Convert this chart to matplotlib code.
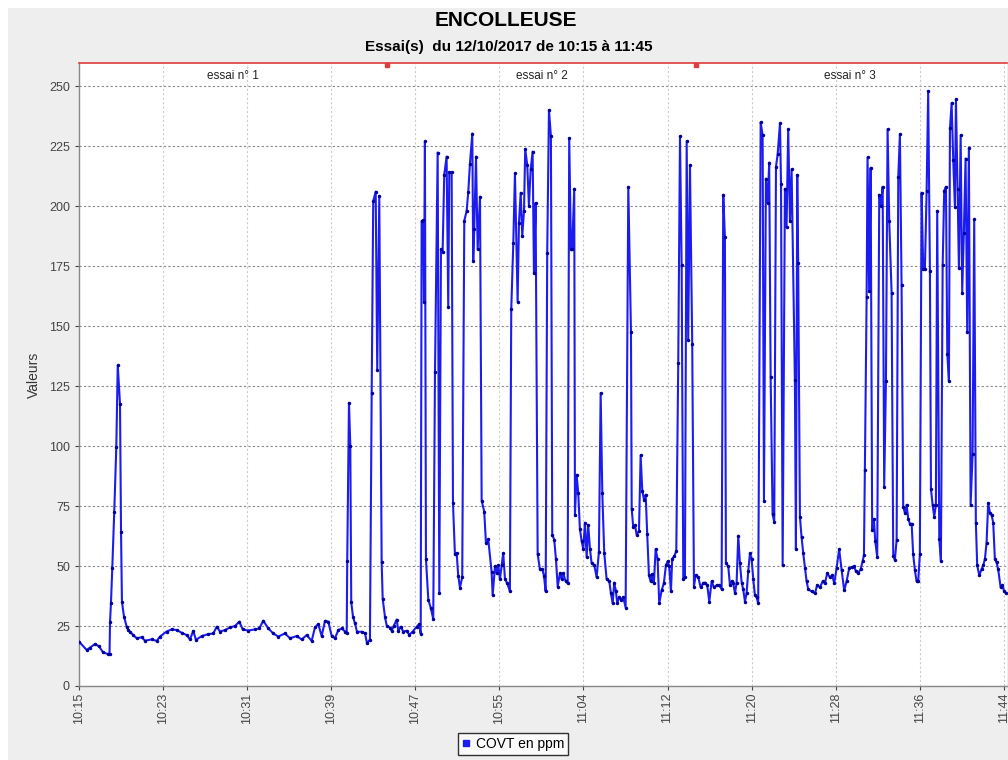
import matplotlib
matplotlib.use('Agg')
import matplotlib.pyplot as plt
from matplotlib.lines import Line2D
from matplotlib.patches import Rectangle

# minutes after 10:15 and COVT values (ppm)
time_min = [
    0.0, 0.75, 1.07, 1.56, 1.95, 2.34, 2.82, 2.97, 3.02, 3.11, 3.24, 3.43, 3.63, 3.77, 3.99,
    4.09, 4.18, 4.38, 4.64, 4.80, 4.96, 5.28, 5.61, 6.10, 6.42, 7.07, 7.56, 7.88, 8.53, 9.02,
    9.51, 9.99, 10.48, 10.80, 11.12, 11.38, 11.94, 12.58, 13.07, 13.40, 13.72, 14.21, 14.69,
    15.18, 15.60, 15.93, 16.47, 17.12, 17.54, 17.93, 18.42, 18.90, 19.39, 20.04, 20.53, 21.18,
    21.67, 22.15, 22.64, 22.96, 23.28, 23.61, 23.94, 24.26, 24.59, 24.91, 25.23, 25.56, 25.88,
    26.05, 26.10, 26.27, 26.40, 26.49, 26.66, 26.85, 27.05, 27.53, 27.83, 28.02, 28.31, 28.48,
    28.63, 28.87, 29.02, 29.22, 29.45, 29.55, 29.77, 29.94, 30.26, 30.42, 30.65, 30.91, 31.07,
    31.30, 31.55, 31.88, 32.14, 32.47, 32.86, 33.08, 33.25, 33.34, 33.50, 33.57, 33.66, 33.76,
    33.99, 34.22, 34.47, 34.64, 34.90, 35.06, 35.22, 35.38, 35.54, 35.77, 35.93, 36.03, 36.26,
    36.39, 36.58, 36.75, 36.90, 37.07, 37.29, 37.49, 37.72, 37.88, 38.04, 38.27, 38.36, 38.46,
    38.63, 38.79, 39.02, 39.18, 39.43, 39.60, 39.82, 40.15, 40.25, 40.48, 40.64, 40.80, 40.96,
    41.13, 41.28, 41.45, 41.67, 41.93, 42.06, 42.26, 42.42, 42.68, 42.81, 42.98, 43.13, 43.30,
    43.42, 43.62, 43.78, 43.95, 44.14, 44.27, 44.43, 44.63, 44.85, 45.08, 45.24, 45.41, 45.56,
    45.73, 45.92, 46.05, 46.24, 46.41, 46.58, 46.80, 46.96, 47.12, 47.35, 47.55, 47.70, 47.87,
    47.99, 48.19, 48.26, 48.42, 48.58, 48.74, 48.91, 49.07, 49.23, 49.40, 49.55, 49.72, 49.88,
    50.14, 50.37, 50.59, 50.76, 50.92, 51.11, 51.34, 51.60, 51.76, 51.93, 52.08, 52.25, 52.37,
    52.54, 52.73, 52.96, 53.19, 53.45, 53.71, 53.78, 53.93, 54.10, 54.26, 54.49, 54.65, 54.81,
    54.97, 55.14, 55.29, 55.46, 55.62, 55.78, 55.94, 56.11, 56.30, 56.46, 56.69, 56.91, 57.11,
    57.28, 57.43, 57.60, 57.72, 57.92, 58.12, 58.31, 58.48, 58.64, 58.80, 58.96, 59.13, 59.28,
    59.45, 59.67, 59.84, 60.00, 60.26, 60.49, 60.74, 60.91, 61.13, 61.33, 61.56, 61.78, 62.05,
    62.30, 62.53, 62.69, 62.85, 62.95, 63.18, 63.34, 63.50, 63.66, 63.83, 63.99, 64.15, 64.31,
    64.48, 64.63, 64.80, 64.96, 65.12, 65.29, 65.45, 65.61, 65.77, 65.94, 66.09, 66.33, 66.52,
    66.65, 66.84, 67.01, 67.16, 67.30, 67.49, 67.65, 67.82, 67.98, 68.21, 68.31, 68.47, 68.69,
    68.85, 69.01, 69.18, 69.34, 69.66, 69.76, 69.89, 69.98, 70.15, 70.31, 70.47, 70.64, 70.80,
    70.96, 71.28, 71.61, 71.83, 72.10, 72.36, 72.58, 72.81, 73.07, 73.29, 73.49, 73.72, 73.97,
    74.21, 74.46, 74.69, 74.95, 75.18, 75.41, 75.60, 75.82, 76.06, 76.25, 76.38, 76.47, 76.64,
    76.73, 76.89, 77.03, 77.18, 77.35, 77.48, 77.67, 77.87, 78.03, 78.20, 78.35, 78.52, 78.68,
    78.84, 79.07, 79.23, 79.39, 79.56, 79.72, 79.88, 80.04, 80.20, 80.37, 80.53, 80.69, 80.85,
    81.02, 81.17, 81.34, 81.50, 81.66, 81.82, 81.99, 82.15, 82.31, 82.48, 82.63, 82.80, 82.90,
    83.06, 83.22, 83.38, 83.51, 83.71, 83.87, 84.04, 84.19, 84.36, 84.49, 84.65, 84.75, 84.91,
    85.07, 85.23, 85.33, 85.49, 85.62, 85.79, 85.94, 86.10, 86.27, 86.43, 86.59, 86.76, 86.95,
    87.11, 87.27, 87.40, 87.60, 87.83, 87.99, 88.15, 88.31, 88.47, 88.64, 88.80, 88.96, 89.12,
    89.28, 89.44, 89.68, 89.86, 90.02, 90.25,
]
covt = [
    18.5, 15, 16, 17.5, 16.5, 14, 13.3, 13.5, 26.8, 34.5, 49.3, 72.6, 99.6, 133.7, 117.5,
    64, 35, 28.9, 24.7, 23.3, 22.6, 21.2, 19.9, 20.3, 18.9, 19.4, 18.8, 20.6, 22.7, 23.6,
    23.3, 22.2, 21.2, 19.4, 23.0, 19.2, 20.8, 21.6, 21.9, 24.7, 22.7, 23.3, 24.4,
    25, 26.8, 23.6, 23.1, 23.6, 24, 27.2, 24, 21.9, 20.6, 21.9, 19.9, 20.8,
    19.4, 21.2, 18.8, 24.4, 25.8, 20.8, 27.2, 26.8, 20.8, 19.9, 23.3, 24, 22.7,
    22, 52, 118, 100, 35, 28.9, 26.1, 22.6, 22.6, 22, 17.8, 19.3, 122,
    202, 206, 131.7, 204, 51.5, 36.4, 28.9, 25.2, 24.3, 23, 25.2, 27.7, 23,
    24.7, 22.7, 23, 21.3, 22.7, 24.7, 25.7, 21.8, 193.8, 194, 160, 227, 52.9,
    36, 32.7, 28, 130.9, 222.3, 38.6, 182, 180.7, 213, 220.6, 158, 214, 214,
    76.3, 54.9, 55.4, 46, 41, 45.3, 193.8, 198, 205.9, 217.6, 230.2, 177, 190.4,
    220.6, 182, 203.9, 77.2, 72.7, 59.6, 61.2, 47.5, 37.8, 49.8, 47, 50.3, 44.5,
    50.3, 55.4, 44.5, 42.8, 39.4, 156.9, 184.6, 213.6, 160, 193, 205.5, 187.4, 198,
    223.7, 217, 200, 215.3, 222.7, 172, 201.3, 54.9, 48.7, 48.7, 46, 39.4, 180.4,
    240, 229, 63, 61, 52.9, 41.4, 47, 44.5, 47, 43.6, 42.8, 228.2, 182,
    182, 207.2, 71.3, 88, 80.5, 65.4, 60.4, 57, 68, 53.7, 67.1, 57, 51.2,
    50.3, 45.3, 55.9, 122, 80.5, 55.4, 44.5, 43.6, 38.6, 34.4, 43.1, 39.4, 34.4,
    36.9, 36, 36.9, 32.7, 208, 147.7, 73.8, 66.3, 67.1, 63, 64.6, 96.1, 81.4,
    77.7, 79.7, 63.3, 46.1, 43.6, 46.5, 42.8, 57, 52.9, 34.4, 39.8, 42.8, 50.3,
    52, 49.8, 39.4, 52.9, 54.2, 56.2, 134.7, 229, 175.3, 44.5, 45.3, 227, 144.3,
    217, 142.6, 41.4, 46.1, 45.3, 41.1, 42.8, 43.1, 42, 35.2, 43.6, 41.1, 42,
    42, 40.3, 204.7, 187.1, 51.2, 49.8, 42, 43.6, 42.8, 38.6, 43.1, 62.6, 51.2,
    43.1, 40.3, 35.2, 38.6, 47.8, 55.4, 52.9, 44.5, 37.8, 36.9, 34.4, 234.9, 229.4,
    77.2, 211.4, 201.3, 218.1, 128.7, 71.6, 68.3, 216.4, 221.5, 234.4, 209.2, 50.3, 207.2,
    191.3, 232, 193.8, 215.3, 127.5, 57, 213, 176.2, 70.5, 62, 55.4, 49.2, 43.6,
    40.3, 39.4, 38.6, 42, 41.1, 43.6, 42.8, 47, 45.3, 46.1, 42.8, 49.2, 57,
    48.2, 39.8, 43.6, 49.2, 49.5, 49.8, 47.8, 47, 48.7, 52, 54.5, 90.1, 162,
    220.3, 164.4, 215.9, 64.9, 69.6, 60.4, 53.7, 204.7, 200.2, 208, 83.1, 127, 232,
    193.8, 163.9, 54.2, 52.5, 60.9, 212.2, 229.9, 167, 74.7, 72.1, 75.5, 69.6, 67.6,
    67.6, 54.9, 48.2, 43.6, 43.6, 54.9, 205.5, 173.7, 173.7, 206.4, 247.8, 172.8, 82.2,
    75.5, 70.5, 75.5, 198, 61.2, 52, 175.3, 206.4, 208, 138.4, 127, 232.4, 242.8,
    219, 199.7, 244.5, 207.2, 174, 229.4, 163.9, 188.8, 219.8, 147.7, 224.3, 75.5, 96.5,
    194.6, 68, 50.3, 46.1, 48.7, 50.3, 52.9, 59.6, 76.3, 72.1, 71.3, 68, 52.9,
    51.5, 48.7, 41.1, 42, 39.4, 38.6,
]

tick_pos = [0, 8.18, 16.36, 24.55, 32.73, 40.91, 49.09, 57.27, 65.45, 73.64, 81.82, 90]
tick_labels = ['10:15', '10:23', '10:31', '10:39', '10:47', '10:55',
               '11:04', '11:12', '11:20', '11:28', '11:36', '11:44']
y_ticks = [0, 25, 50, 75, 100, 125, 150, 175, 200, 225, 250]
essai_bounds = [0, 30, 60, 90]
essai_labels = ['essai n° 1', 'essai n° 2', 'essai n° 3']

plt.rcParams['font.family'] = ['Liberation Sans', 'DejaVu Sans']

fig = plt.figure(figsize=(10.08, 7.6), dpi=100, facecolor='white')
# grey chart panel with thin white margin
fig.patches.append(Rectangle((8 / 1008, 0), 1, 1 - 8 / 760, transform=fig.transFigure,
                             facecolor='#eeeeee', edgecolor='none', zorder=-10))

ax = fig.add_axes([79 / 1008, 1 - 686 / 760, 928 / 1008, 623 / 760])
ax.set_facecolor('white')

ymax = 259.6
ax.set_xlim(0, 90.3)
ax.set_ylim(0, ymax)

for yt in y_ticks:
    ax.axhline(yt, color='#888888', lw=0.8, ls=(0, (2, 2)), zorder=1)
for xt in tick_pos:
    ax.axvline(xt, color='#cccccc', lw=0.8, ls=(0, (2, 2)), zorder=1)

ax.plot(time_min, covt, color='#1c1cf0', lw=1.5, marker='o', ms=1.5,
        mfc='#0000a0', mec='#0000a0', zorder=3, clip_on=True)

# essai bands across the top
ax.axhline(ymax, color='#e03c3c', lw=1.2, zorder=4, clip_on=False)
ax.plot(essai_bounds[1:-1], [ymax - 0.8] * 2, ls='none', marker='s', ms=2.2,
        color='#e03c3c', clip_on=False, zorder=5)
for i, lab in enumerate(essai_labels):
    mid = (essai_bounds[i] + essai_bounds[i + 1]) / 2
    ax.text(mid, 254.3, lab, ha='center', va='center', fontsize=8.5,
            family=['Liberation Sans Narrow', 'Liberation Sans'], color='#222222')

ax.set_yticks(y_ticks)
ax.set_xticks(tick_pos)
ax.set_xticklabels(tick_labels, rotation=90)
ax.tick_params(axis='both', labelsize=9, colors='#444444', length=3, width=0.8)
ax.tick_params(axis='x', pad=2)
for s in ['top', 'right']:
    ax.spines[s].set_visible(False)
for s in ['left', 'bottom']:
    ax.spines[s].set_color('#888888')
    ax.spines[s].set_linewidth(1.0)

ax.set_ylabel('Valeurs', fontsize=10, color='#333333', labelpad=6)

fig.text(0.502, 1 - 20 / 760, 'ENCOLLEUSE', ha='center', va='center',
         fontsize=15, fontweight='bold')
fig.text(0.505, 1 - 47 / 760, 'Essai(s)  du 12/10/2017 de 10:15 à 11:45', ha='center',
         va='center', fontsize=11, fontweight='bold',
         family=['Liberation Sans Narrow', 'Liberation Sans'])

handle = Line2D([], [], ls='none', marker='s', ms=5, color='#1c1cf0')
leg = fig.legend([handle], ['COVT en ppm'], loc='center', bbox_to_anchor=(0.509, 0.021),
                 fontsize=10, frameon=True, fancybox=False, handlelength=0.6,
                 handletextpad=0.4, borderpad=0.3, borderaxespad=0)
leg.get_frame().set_edgecolor('black')
leg.get_frame().set_linewidth(1.0)

fig.savefig('out.png', dpi=100, facecolor=fig.get_facecolor())
plt.close(fig)
